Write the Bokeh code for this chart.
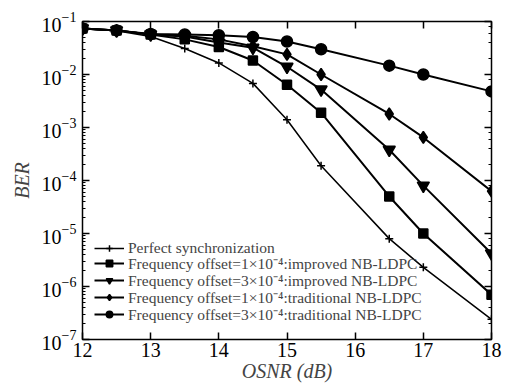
from bokeh.plotting import figure
from bokeh.models import LogAxis, LinearAxis, Legend, LegendItem, FixedTicker, Range1d
from bokeh.embed import file_html
from bokeh.resources import INLINE

osnr = [12, 12.5, 13, 13.5, 14, 14.5, 15, 15.5, 16.5, 17, 18]
perfect = [0.074, 0.067, 0.052, 0.031, 0.0165, 0.0068, 0.0014, 1.9e-4, 8e-6, 2.3e-6, 2.4e-7]
improved_1e4 = [0.074, 0.068, 0.057, 0.046, 0.033, 0.0184, 0.0064, 0.0019, 5e-5, 1e-5, 7e-7]
improved_3e4 = [0.074, 0.068, 0.057, 0.052, 0.040, 0.032, 0.014, 0.0052, 3.8e-4, 8e-5, 4.2e-6]
traditional_1e4 = [0.074, 0.068, 0.057, 0.054, 0.046, 0.034, 0.024, 0.010, 0.0018, 6.5e-4, 6.3e-5]
traditional_3e4 = [0.074, 0.068, 0.058, 0.057, 0.055, 0.051, 0.042, 0.030, 0.0147, 0.010, 0.0048]

labels = [
    "Perfect synchronization",
    "Frequency offset=1\u00d710\u207b\u2074:improved NB-LDPC",
    "Frequency offset=3\u00d710\u207b\u2074:improved NB-LDPC",
    "Frequency offset=1\u00d710\u207b\u2074:traditional NB-LDPC",
    "Frequency offset=3\u00d710\u207b\u2074:traditional NB-LDPC",
]
x_ticks = [12, 13, 14, 15, 16, 17, 18]

FONT = "Liberation Serif"

p = figure(width=507, height=385, y_axis_type="log",
           x_range=Range1d(12, 18), y_range=Range1d(1e-7, 1e-1),
           output_backend="svg", toolbar_location=None,
           min_border_left=82, min_border_right=16, min_border_top=21, min_border_bottom=46)
p.background_fill_color = "white"
p.border_fill_color = "white"
p.grid.visible = False
p.outline_line_color = "black"
p.outline_line_width = 1.5

series = [
    (perfect, "cross", 8, 1.5),
    (improved_1e4, "square", 9, 2),
    (improved_3e4, "inverted_triangle", 12, 2),
    (traditional_1e4, "diamond", 12, 2),
    (traditional_3e4, "circle", 11, 2),
]
n = len(series)
for i, ((ys, mk, sz, lw), lab) in enumerate(zip(series, labels)):
    l = p.line(osnr, ys, line_color="black", line_width=lw)
    m = p.scatter(osnr, ys, marker=mk, size=sz, fill_color="black", line_color="black", line_width=1.5)
    lg = Legend(items=[LegendItem(label=lab, renderers=[l, m])],
                location=(12, 14 + 17 * (n - 1 - i)), margin=0, padding=0, spacing=0,
                label_height=16, glyph_height=16, glyph_width=30, label_standoff=4,
                label_text_font=FONT, label_text_font_size="15.5px",
                background_fill_alpha=0, border_line_alpha=0)
    p.add_layout(lg)

def style_axis(ax, show_labels=True):
    ax.axis_line_color = None
    ax.major_tick_in = 7
    ax.major_tick_out = 0
    ax.minor_tick_in = 3
    ax.minor_tick_out = 0
    ax.major_tick_line_color = "black"
    ax.minor_tick_line_color = "black"
    ax.major_tick_line_width = 1.5
    ax.major_label_text_font = FONT
    ax.major_label_text_font_size = "20px"
    ax.major_label_text_color = "black"
    if not show_labels:
        ax.major_label_text_color = None

p.xaxis.ticker = FixedTicker(ticks=x_ticks)
style_axis(p.xaxis[0])
p.xaxis.minor_tick_in = 0
p.xaxis.major_label_standoff = 3
p.xaxis.axis_label = "OSNR (dB)"
p.xaxis.axis_label_text_font = FONT
p.xaxis.axis_label_text_font_style = "italic"
p.xaxis.axis_label_text_font_size = "20px"
p.xaxis.axis_label_standoff = 0

style_axis(p.yaxis[0])
p.yaxis.major_label_standoff = 6
p.yaxis.axis_label = "BER"
p.yaxis.axis_label_text_font = FONT
p.yaxis.axis_label_text_font_style = "italic"
p.yaxis.axis_label_text_font_size = "20px"
p.yaxis.axis_label_standoff = 6

top = LinearAxis(ticker=FixedTicker(ticks=x_ticks))
style_axis(top, False)
top.minor_tick_in = 0
top.major_label_standoff = 0
p.add_layout(top, "above")

right = LogAxis()
style_axis(right, False)
right.major_label_standoff = 0
p.add_layout(right, "right")

open("out.html", "w").write(file_html(p, INLINE))
